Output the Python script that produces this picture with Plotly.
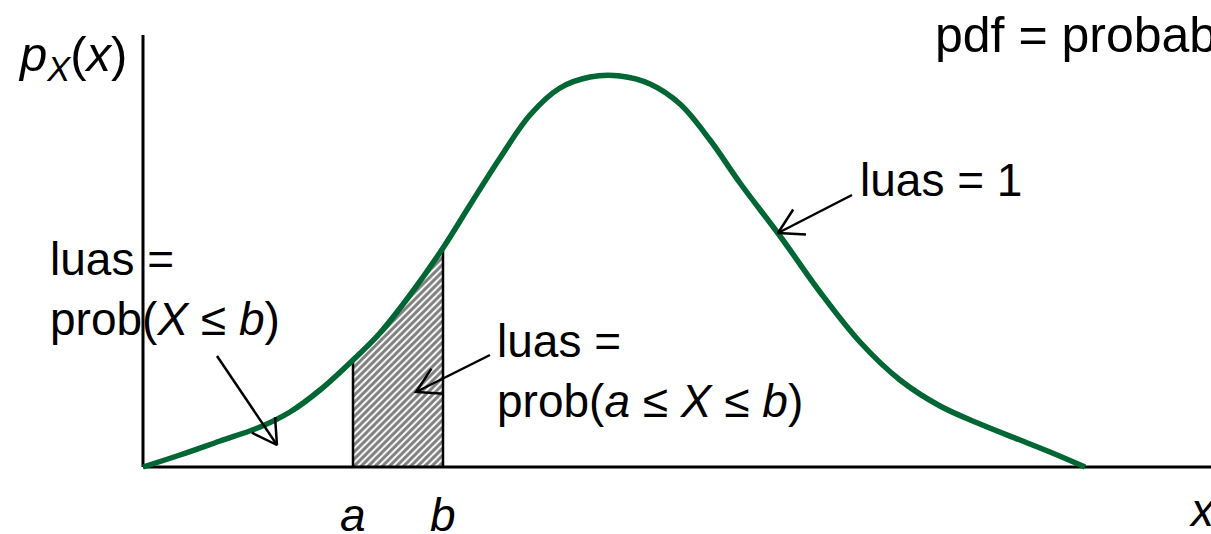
import numpy as np
import plotly.graph_objects as go

# Curve of the pdf (diagram units: x from the vertical axis, y up from the baseline)
curve_x = [0, 37, 77, 117, 147, 177, 210, 237, 267, 300, 327, 357, 387, 417, 447, 477,
           507, 537, 567, 597, 637, 677, 717, 757, 797, 837, 877, 907, 942]
curve_y = [0, 12, 26, 40, 55, 77, 107, 134, 172, 219, 262, 309, 352, 379, 390, 391,
           383, 363, 327, 284, 231, 175, 125, 87, 61, 43, 27, 15, 0]
a_val = 210
b_val = 300
y_axis_top = 432
x_axis_end = 1068

# arrows: (start, tip)
arrow_starts = [(709, 272), (74, 111), (347, 112)]
arrow_tips = [(635, 234), (134, 22), (273, 75)]

GREEN = "#006633"
FONT = "Liberation Sans, Arial, sans-serif"

fig = go.Figure()

# hatched area between a and b
cx = np.array(curve_x)
cy = np.array(curve_y)
mask = (cx >= a_val) & (cx <= b_val)
fig.add_trace(go.Scatter(
    x=cx[mask], y=cy[mask], mode="lines", line=dict(width=0, shape="spline", color="black"),
    fill="tozeroy", fillcolor="white",
    fillpattern=dict(shape="/", fgcolor="black", bgcolor="white", size=5, solidity=0.6),
    hoverinfo="skip", showlegend=False))

# vertical borders at a and b
ya = cy[cx == a_val][0]
yb = cy[cx == b_val][0]
for xv, yv in [(a_val, ya), (b_val, yb)]:
    fig.add_trace(go.Scatter(x=[xv, xv], y=[0, yv], mode="lines",
                             line=dict(color="black", width=2.5), showlegend=False, hoverinfo="skip"))

# axes
fig.add_trace(go.Scatter(x=[0, 0], y=[0, y_axis_top], mode="lines",
                         line=dict(color="black", width=3), showlegend=False, hoverinfo="skip"))
fig.add_trace(go.Scatter(x=[0, x_axis_end], y=[0, 0], mode="lines",
                         line=dict(color="black", width=3), showlegend=False, hoverinfo="skip"))

# pdf curve
fig.add_trace(go.Scatter(x=curve_x, y=curve_y, mode="lines",
                         line=dict(color=GREEN, width=5.5, shape="spline", smoothing=1.0),
                         showlegend=False, hoverinfo="skip"))

# arrows with open V heads
head_len = 28
head_ang = np.deg2rad(30)
for (sx, sy), (tx, ty) in zip(arrow_starts, arrow_tips):
    ang = np.arctan2(sy - ty, sx - tx)
    h1 = (tx + head_len * np.cos(ang + head_ang), ty + head_len * np.sin(ang + head_ang))
    h2 = (tx + head_len * np.cos(ang - head_ang), ty + head_len * np.sin(ang - head_ang))
    fig.add_trace(go.Scatter(x=[sx, tx, None, h1[0], tx, h2[0]],
                             y=[sy, ty, None, h1[1], ty, h2[1]], mode="lines",
                             line=dict(color="black", width=2.5), showlegend=False,
                             hoverinfo="skip"))

def note(x, y, text, size=46, xanchor="left", yanchor="middle"):
    fig.add_annotation(x=x, y=y, xref="x", yref="y", text=text, showarrow=False,
                       xanchor=xanchor, yanchor=yanchor, align="left",
                       font=dict(family=FONT, size=size, color="black"))

note(790, 432, "pdf = probability density function", size=50)
note(-127, 410, "<i>p</i><sub><i>X</i></sub>(<i>x</i>)", size=49)
note(715, 287, "luas = 1")
note(-95, 178, "luas =<br>prob(<i>X</i> ≤ <i>b</i>)")
note(352, 96, "luas =<br>prob(<i>a</i> ≤ <i>X</i> ≤ <i>b</i>)")
note(a_val, -48, "<i>a</i>", xanchor="center")
note(b_val, -48, "<i>b</i>", xanchor="center")
note(1044, -43, "<i>x</i>")

fig.update_layout(
    width=1211, height=534,
    margin=dict(l=0, r=0, t=0, b=0),
    paper_bgcolor="white", plot_bgcolor="white",
    xaxis=dict(range=[-143, 1068], visible=False, fixedrange=True),
    yaxis=dict(range=[-67, 467], visible=False, fixedrange=True),
    showlegend=False,
)

fig.write_html("out.html", config={"displayModeBar": False},
               post_script="document.body.style.margin='0';document.body.style.overflow='hidden';")
